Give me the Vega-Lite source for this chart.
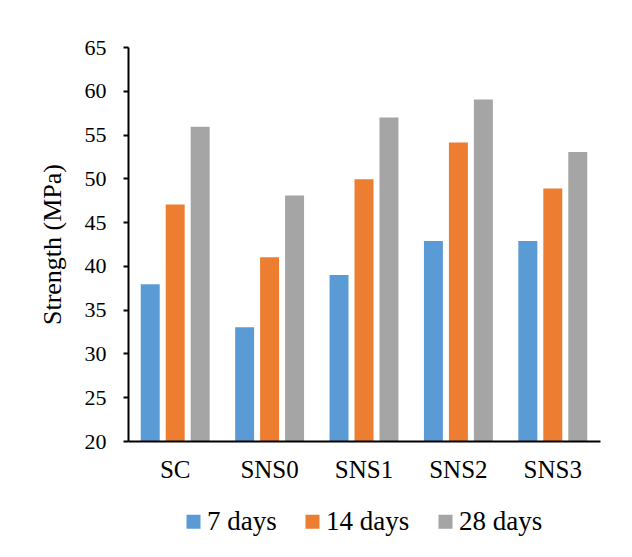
{
  "$schema": "https://vega.github.io/schema/vega-lite/v6.json",
  "autosize": {"type": "none"},
  "width": 472,
  "height": 394,
  "padding": {"left": 128, "top": 47, "right": 32, "bottom": 116},
  "background": "white",
  "config": {
    "view": {"stroke": null},
    "font": "Liberation Serif"
  },
  "data": {
    "values": [
      {"mix": "SC", "age": "7 days", "strength": 37.9},
      {"mix": "SC", "age": "14 days", "strength": 47},
      {"mix": "SC", "age": "28 days", "strength": 55.9},
      {"mix": "SNS0", "age": "7 days", "strength": 33},
      {"mix": "SNS0", "age": "14 days", "strength": 41},
      {"mix": "SNS0", "age": "28 days", "strength": 48.05},
      {"mix": "SNS1", "age": "7 days", "strength": 38.95},
      {"mix": "SNS1", "age": "14 days", "strength": 49.9},
      {"mix": "SNS1", "age": "28 days", "strength": 56.95},
      {"mix": "SNS2", "age": "7 days", "strength": 42.85},
      {"mix": "SNS2", "age": "14 days", "strength": 54.1},
      {"mix": "SNS2", "age": "28 days", "strength": 59},
      {"mix": "SNS3", "age": "7 days", "strength": 42.85},
      {"mix": "SNS3", "age": "14 days", "strength": 48.85},
      {"mix": "SNS3", "age": "28 days", "strength": 53}
    ]
  },
  "mark": {"type": "bar", "clip": true},
  "encoding": {
    "x": {
      "field": "mix",
      "type": "nominal",
      "sort": null,
      "scale": {"paddingInner": 0.27, "paddingOuter": 0.135},
      "axis": {
        "title": null,
        "labelAngle": 0,
        "labelFont": "Liberation Serif",
        "labelFontSize": 25,
        "labelColor": "black",
        "labelPadding": 16,
        "ticks": false,
        "domainColor": "black",
        "domainWidth": 2,
        "zindex": 1
      }
    },
    "xOffset": {
      "field": "age",
      "type": "nominal",
      "sort": ["7 days", "14 days", "28 days"],
      "scale": {"paddingInner": 0.24, "paddingOuter": 0}
    },
    "y": {
      "field": "strength",
      "type": "quantitative",
      "scale": {"domain": [20, 65], "zero": false, "nice": false},
      "axis": {
        "title": "Strength (MPa)",
        "titleFont": "Liberation Serif",
        "titleFontSize": 26,
        "titleFontWeight": "normal",
        "titleColor": "black",
        "titlePadding": 19,
        "values": [20, 25, 30, 35, 40, 45, 50, 55, 60, 65],
        "labelFont": "Liberation Serif",
        "labelFontSize": 22,
        "labelColor": "black",
        "labelPadding": 17,
        "grid": false,
        "tickSize": 5,
        "tickColor": "black",
        "tickWidth": 2,
        "domainColor": "black",
        "domainWidth": 2,
        "zindex": 1
      }
    },
    "y2": {"datum": 20},
    "color": {
      "field": "age",
      "type": "nominal",
      "sort": ["7 days", "14 days", "28 days"],
      "scale": {
        "domain": ["7 days", "14 days", "28 days"],
        "range": ["#5B9BD5", "#ED7D31", "#A5A5A5"]
      },
      "legend": {
        "title": null,
        "orient": "none",
        "legendX": 52,
        "legendY": 461,
        "direction": "horizontal",
        "symbolType": "square",
        "symbolSize": 196,
        "symbolStrokeWidth": 0,
        "symbolOpacity": 1,
        "labelFont": "Liberation Serif",
        "labelFontSize": 27,
        "labelColor": "black",
        "labelOffset": 0,
        "columnPadding": 22
      }
    }
  }
}
